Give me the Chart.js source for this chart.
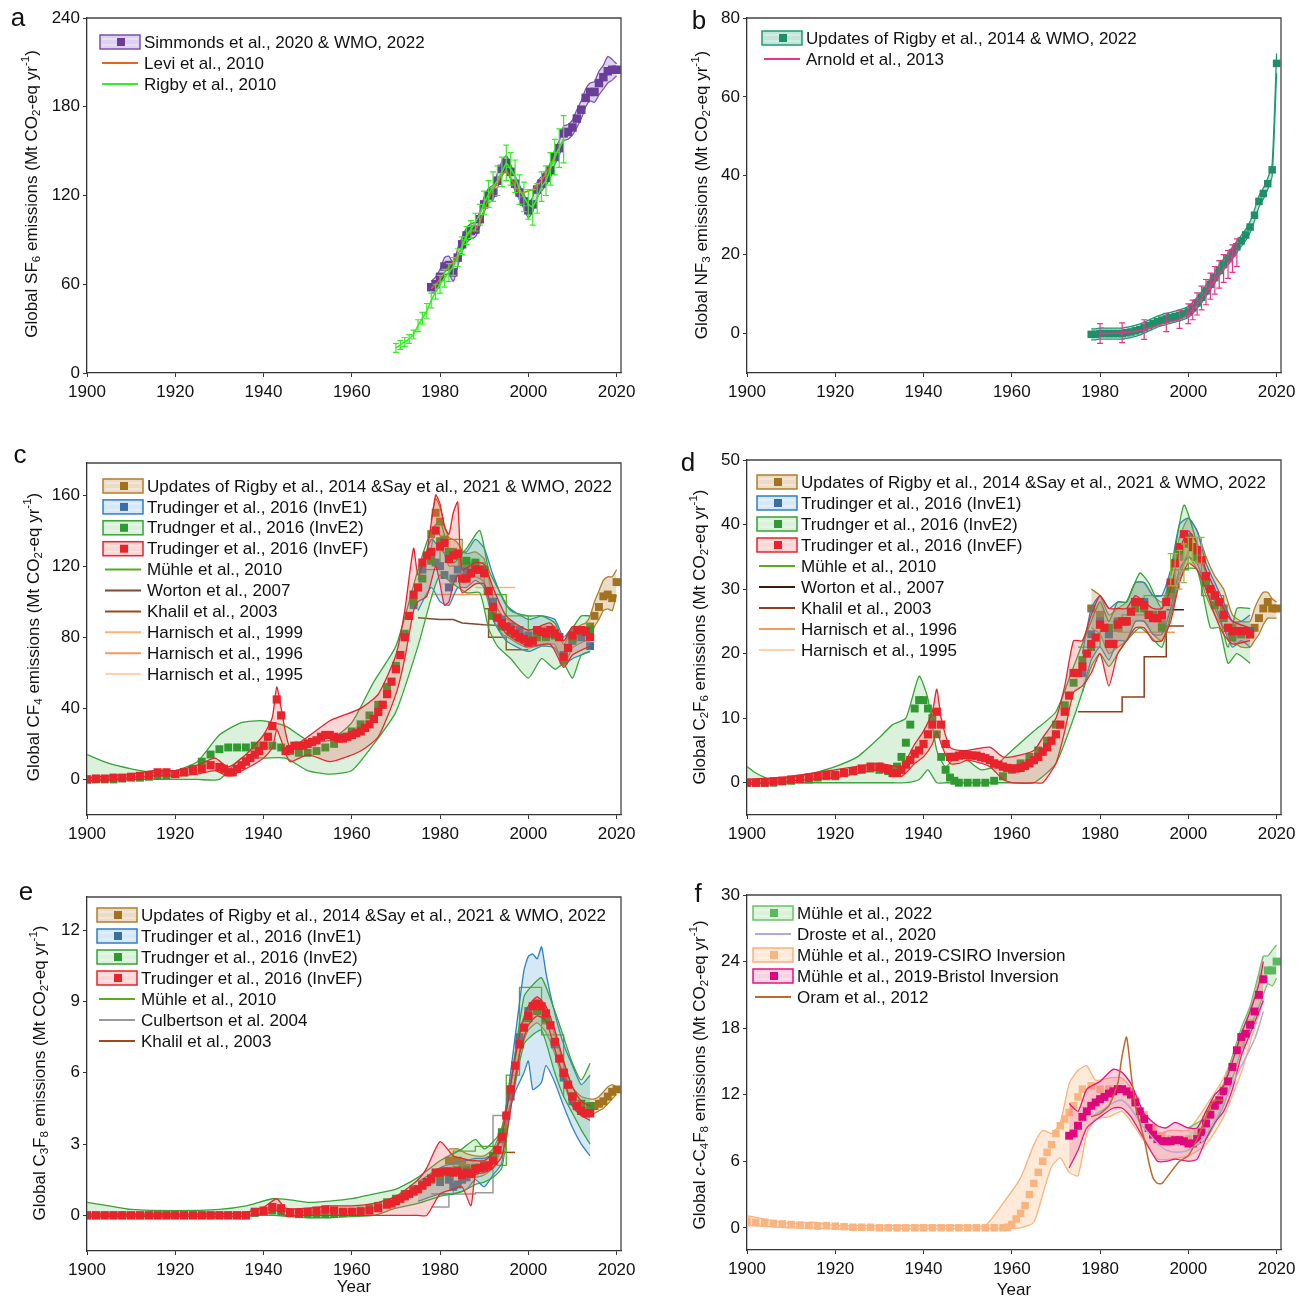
<!DOCTYPE html>
<html>
<head>
<meta charset="utf-8">
<script src="https://cdn.jsdelivr.net/npm/chart.js@4.4.0/dist/chart.umd.min.js"></script>
<style>
  body { margin: 0; background: #fff; }
  #wrap { position: relative; width: 1311px; height: 1297px; }
  #wrap canvas { position: absolute; left: 0; top: 0; }
</style>
</head>
<body>
<div id="wrap"></div>
<script>
const FONT = '"Liberation Sans", Arial, sans-serif';
const range = (a, b, s = 1) => { const r = []; for (let v = a; v <= b + 1e-9; v += s) r.push(v); return r; };

// ---- shared axis ticks ----
const xTicks = [1900, 1920, 1940, 1960, 1980, 2000, 2020];

// ---- panel a: SF6 ----
const aTicks = [0, 60, 120, 180, 240];
const aSimYears = range(1978, 2020);
const aSimMid = [58,60,65,72,73,68,78,87,93,96,97,104,114,120,122,130,138,142,136,128,122,116,110,114,124,128,132,137,146,152,162,163,166,172,178,186,190,190,196,200,204,205,205];
const aSimHi = [62,65,70,78,79,74,84,92,98,101,102,109,119,125,127,135,143,147,141,133,127,121,115,119,129,133,137,142,151,157,167,168,171,178,184,192,196,197,204,208,214,212,209];
const aSimLo = [54,55,60,66,67,62,72,82,88,91,92,99,109,115,117,125,133,137,131,123,117,111,105,109,119,123,127,132,141,147,157,158,161,166,172,180,184,183,188,192,196,198,201];
const aLeviYears = range(1978, 2008);
const aLevi = [57,60,63,68,72,75,80,85,92,96,97,102,110,118,124,128,134,137,132,126,122,122,123,124,127,130,135,140,147,152,158];
const aRigbyYears = range(1970, 2008);
const aRigby = [17,19,21,23,26,32,37,42,49,55,60,64,68,72,78,86,93,97,102,107,115,121,126,130,136,142,138,133,124,119,114,112,118,126,130,138,146,152,158];
const aRigbyErr = [3,3,3,3,3,4,4,5,5,5,6,6,6,6,6,6,6,6,6,7,8,9,10,10,10,12,11,11,10,10,10,12,10,10,10,11,12,13,16];

// ---- panel b: NF3 ----
const bTicks = [0, 20, 40, 60, 80];
const bUpdYears = range(1978, 2020);
const bUpdMid = [-0.2,-0.2,0,0,0,0,0,0,0.2,0.4,0.7,1.0,1.5,2.0,2.5,3.0,3.4,3.7,4.0,4.3,4.6,5.0,5.5,6.5,7.8,9.2,10.8,12.5,14.2,16.0,17.5,19.0,20.5,22.0,23.5,25.0,27.0,30.0,33.5,35.5,38.0,41.5,68.5];
const bUpdHi = [1.2,1.2,1.4,1.4,1.4,1.4,1.4,1.4,1.6,1.8,2.1,2.4,2.9,3.4,3.9,4.4,4.8,5.1,5.4,5.7,6.0,6.4,6.9,7.9,9.2,10.6,12.2,13.9,15.6,17.4,18.9,20.4,21.9,23.4,24.9,26.4,28.4,31.4,34.9,36.9,39.4,43,71];
const bUpdLo = [-1.6,-1.6,-1.4,-1.4,-1.4,-1.4,-1.4,-1.4,-1.2,-1.0,-0.7,-0.4,0.1,0.6,1.1,1.6,2.0,2.3,2.6,2.9,3.2,3.6,4.1,5.1,6.4,7.8,9.4,11.1,12.8,14.6,16.1,17.6,19.1,20.6,22.1,23.6,25.6,28.6,32.1,34.1,36.6,40,66];
const bArnYears = [1980,1985,1990,1995,1998,2000,2001,2002,2003,2004,2005,2006,2007,2008,2009,2010,2011];
const bArn = [0,0.2,1.0,2.8,3.6,5.0,6.0,7.5,9.0,10.5,12.0,13.5,15.0,16.5,17.5,19.0,20.5];
const bArnErr = [2.5,2.5,2.5,2.3,2.3,2.5,2.5,2.8,3.0,3.2,3.3,3.5,3.5,3.5,3.5,3.5,3.5];

// ---- panel c: CF4 ----
const cTicks = [0, 40, 80, 120, 160];
const cRedYears = [...range(1900, 1928, 2), ...range(1930, 2014)];
const cRedMid = [0,0.5,0.5,1,1,1.5,2,2.5,4,4,3,4,5,6,8,
  7,6,4,4,6,8,10,12,14,16, 19,24,30,45,36,16,17,19,19,19,
  20,21,22,24,25,25,24,23,23,24, 25,26,27,29,31,34,38,42,48,55,
  62,70,80,92,104,108,122,126,128,140, 131,133,124,126,127,113,113,116,118,118,
  116,106,97,91,88,86,84,82,80,79, 77,78,84,83,82,84,82,80,69,74, 81,84,84,83,80];
const cRedBandYears = [1900,1905,1910,1915,1920,1925,1929,1932,1936,1940,1942,1943,1944,1946,1950,1955,1958,1962,1966,1970,1972,1974,1975,1977,1979,1980,1981,1982,1983,1984,1985,1988,1990,1992,1995,2000,2005,2008,2010,2014];
const cRedHi = [1,2,3,5,5,8,12,7,14,25,35,52,40,18,24,33,36,40,48,70,95,130,115,128,160,155,142,138,150,156,118,122,121,108,92,84,88,78,86,85];
const cRedLo = [-1,0,1,2,2,3,5,2,6,12,18,28,22,10,14,10,12,16,24,48,68,95,100,103,120,110,98,100,110,115,105,110,110,94,82,75,76,63,70,75];
const cGreenYears = range(1900, 2014, 2);
const cGreenMid = [0,0,0,0,0.5,1,1,1.5,2,2.5, 3,4,6,10,14,17,18,18,18,19, 19,19,18,16,15,15,16,18,20,24,
  27,31,36,42,52,64,82,100,113,123, 134,128,127,123,122,118,92,86,83,80, 79,80,80,81,67,80,83,84];
const cGreenBandYears = [1900,1905,1910,1915,1920,1925,1930,1935,1940,1945,1950,1955,1960,1965,1970,1975,1978,1980,1983,1986,1989,1991,1993,1996,2000,2003,2006,2008,2010,2012,2014];
const cGreenHi = [14,9,6,4,5,10,25,32,33,30,22,22,32,55,75,118,140,145,122,130,140,118,108,95,92,92,88,78,85,92,92];
const cGreenLo = [-1,0,0,0,0,0,0,12,12,12,5,3,5,20,38,75,102,115,110,105,105,85,75,68,57,68,62,65,57,70,72];
const cBlueYears = [1974,1976,1978,1979,1980,1981,1982,1983,1984,1986,1988,1990,1992,1994,1996,1998,2000,2002,2004,2006,2008,2010,2012,2014];
const cBlueMid = [98,118,124,122,120,115,108,113,118,117,119,116,100,90,86,84,81,84,83,82,70,78,80,75];
const cBlueBandYears = [1975,1978,1980,1982,1984,1986,1988,1990,1992,1995,2000,2003,2006,2008,2010,2014];
const cBlueHi = [112,135,130,125,128,128,135,130,115,98,90,92,90,80,85,82];
const cBlueLo = [95,108,100,98,108,108,112,108,90,78,72,75,74,65,68,72];
const cUpdYears = [1978,1979,1980,1981,1982,1983,1984,1985,1986,1988,1990,1992,1994,1996,1998,2000,2002,2004,2006,2008,2010,2012,2013,2014,2015,2016,2017,2018,2019,2020];
const cUpdMid = [138,150,145,135,128,128,126,122,120,121,118,96,87,84,81,79,80,81,81,70,79,82,83,86,92,97,103,104,102,111];
const cUpdHi = [146,158,153,143,136,135,133,129,127,128,124,102,92,89,86,84,85,86,86,76,84,87,88,92,100,106,112,114,114,118];
const cUpdLo = [130,142,137,127,120,120,119,115,113,114,111,90,82,79,76,74,75,76,76,64,74,77,78,80,86,90,95,96,95,104];
const cMuhleX = [1975,1980,1985,1990,1995,2000,2005,2008];
const cMuhleY = [118,135,122,104,92,82,80,80];
const cWortonX = [1975,1980,1983,1985,1990,1998];
const cWortonY = [91,90,90,88,87,86];
const cKhalilX = [1990,1991,1995,2000];
const cKhalilY = [96,80,73,73];
const cHar99X = [1988,1997], cHar99Y = [108,108];
const cHar96X = [1978,1995], cHar96Y = [104,104];
const cHar95X = [1980,1990], cHar95Y = [110,110];

// ---- panel d: C2F6 ----
const dTicks = [0, 10, 20, 30, 40, 50];
const dRedYears = [...range(1900, 1928, 2), ...range(1930, 2014)];
const dRedMid = [0,0,0,0.2,0.3,0.5,0.6,0.8,1,1.2,1.2,1.5,1.8,2.2,2.5,
  2.5,2.2,2,1.5,1.5,2,2.8,3.5,4.5,5, 6,7.5,9,11,9,6,4,4,4.2,4.3,
  4.3,4.2,4.2,4,3.8,3.5,3,2.8,2.5,2.3, 2.2,2.2,2.3,2.6,3,3.5,4,4.8,5.5,6.5,
  7.5,9,11,13.5,17,17,18,20,21.5,22.5, 24.5,24,21.5,21.5,24.5,25,25,26.5,28,28,
  27.5,26,25.5,25.5,26,28,31,34,36.5,38.5, 37.5,36.5,36,34.5,32,30,29,28,26,24, 23.5,23.5,23.5,23.5,23];
const dRedBandYears = [1900,1910,1920,1930,1935,1938,1940,1942,1943,1944,1946,1948,1950,1955,1958,1960,1965,1967,1970,1972,1974,1976,1978,1980,1982,1984,1986,1988,1990,1992,1994,1996,1998,2000,2002,2004,2006,2008,2010,2014];
const dRedHi = [0.5,1,2,3,2.5,6,8,11,14.5,10,5.5,5,5,5.5,4,4,5,7,10,15,22,22,26,29,27,27,27,29,28,27,27,30,36,39,37,33,30,27,25,24];
const dRedLo = [-0.3,0.3,0.8,2,1,3,4,6,8,6,3,3,3.5,2.5,0.5,0,0,0,3,8,14,15,17,20,15,20,22,24,24,22,22,25,31,34,33,30,26,23,21.5,22];
const dGreenYears = [...range(1900, 1932, 2), ...range(1933, 1948), ...range(1950, 2014, 2)];
const dGreenMid = [0,0,0,0,0.2,0.3,0.5,0.5,0.8,1,1,1.5,1.8,2,2.2,2,1.8,
  2,2.5,4,6.2,9,11.5,12.8,12.8,11.5,10,7.5,4,2,0.8,0.3,0,
  0,0,0,0.3,1, 2,3,4,5,6.5, 9,12,15.5,19,21, 24.5,24,24.5,25,27, 27,26,24,30,36, 37,35,31,27.5,25.5, 22.5,23,23];
const dGreenBandYears = [1900,1902,1905,1910,1915,1920,1925,1930,1933,1936,1939,1941,1943,1945,1948,1950,1953,1956,1960,1965,1970,1974,1978,1980,1982,1984,1986,1989,1991,1994,1996,1999,2002,2005,2007,2009,2011,2014];
const dGreenHi = [2.5,1.5,0.6,0.8,1.5,2.5,4,7,9,10,16.5,13,5,2.5,4.5,3.5,2,2.5,5,8,11,18,25,28,25,28,28,32.5,31,27,32,43,37,30,26,21,27,27];
const dGreenLo = [0,0,0,0,0,0,0,0,0,0,0.5,2,0,0,0,0,0,0,0,0,3,10,18,20,18,20,22,24,23,21,26,33,33,24,24,18.5,20,18.5];
const dBlueYears = [1976,1978,1980,1982,1984,1986,1988,1990,1992,1994,1996,1998,2000,2002,2004,2006,2008,2010,2012,2014];
const dBlueMid = [17,23,25,23,25,25,28,28,26,26,30,36,38,36,32,29,26,23,23.5,23.5];
const dBlueHi = [20,27,29,27,28,28,31,31,29,29,33,40,41,39,34,31,28,25,25,26];
const dBlueLo = [14,19,21,19,22,22,25,25,23,23,27,33,35,34,30,27,24,21,22,21];
const dUpdYears = [1978,1980,1982,1984,1986,1988,1990,1992,1994,1996,1998,2000,2002,2004,2006,2008,2010,2012,2014,2015,2016,2017,2018,2019,2020];
const dUpdMid = [27,26,23,24,25,28,28,26,25,29,35,38,36,32,29,27,24,23,23,24,25.5,27,28,27,27];
const dUpdHi = [30,29,26,27,28,31,31,29,28,32,38,41,39,35,32,30,26,25,25,27,28.5,29.5,29.5,28.5,28];
const dUpdLo = [24,23,20,21,22,25,25,23,22,26,32,35,33,29,26,24,22,21,21,22,23,24.5,25.5,25.5,25.5];
const dMuhleX = [1975,1980,1985,1990,1995,1997,2000,2003,2008];
const dMuhleY = [21,23.5,26,29,29,33,36,29,28];
const dMuhleErrX = [1996,1997,1998,1999,2000,2001,2002,2003];
const dMuhleErrY = [33,33,33,34,36,36,36,36];
const dMuhleErr = [2.5,2.5,3,3,2,2,2,2];
const dWortonX = [1995,1999], dWortonY = [26.8,26.8];
const dKhalilX = [1975,1985,1990,1995,1999];
const dKhalilY = [11,13.3,19.5,24.3,24.3];
const dHar96X = [1984,1997], dHar96Y = [23.3,23.3];
const dHar95X = [1979,1991], dHar95Y = [25,25];

// ---- panel e: C3F8 ----
const eTicks = [0, 3, 6, 9, 12];
const eRedYears = [...range(1900, 1968, 2), ...range(1969, 2014)];
const eRedMid = [0,0,0,0,0,0,0,0,0,0,0,0,0,0,0,0,0,0,0,
  0.15,0.2,0.35,0.3,0.1,0.1,0.15,0.2,0.25,0.2,0.15,0.15,0.15,0.2,0.3,0.45,
  0.5,0.6,0.7,0.8,0.9,1.0,1.1,1.25,1.4,1.55, 1.8,1.8,1.85,1.85,1.8,1.85,1.7,1.8,1.75,1.95,
  2.0,2.05,2.1,2.3,2.75,3.3,4.2,5.3,6.3,7.2, 7.9,8.4,8.8,8.9,8.8,8.5,8.0,7.3,6.6,6.0, 5.5,5.0,4.6,4.4,4.3,4.3];
const eRedBandYears = [1900,1920,1935,1940,1943,1945,1950,1955,1960,1965,1970,1975,1977,1980,1983,1985,1987,1988,1990,1992,1994,1996,1998,2000,2002,2004,2006,2008,2010,2012,2014];
const eRedHi = [0.05,0.05,0.1,0.35,0.7,0.3,0.3,0.4,0.4,0.5,0.8,1.5,2.0,3.1,2.5,2.4,2.3,2.3,2.3,2.6,3.3,5.5,7.6,8.8,9.2,8.8,7.8,6.5,5.4,4.8,4.6];
const eRedLo = [-0.05,-0.05,-0.05,0.05,0.2,0,0,0,0,0,0,0,0,0.9,1.1,1.2,0.4,1.7,1.8,2.0,2.5,4.5,6.8,8.0,8.4,8.2,7.0,5.8,4.6,4.2,4.0];
const eGreenYears = range(1900, 2014, 2);
const eGreenMid = [0,0,0,0,0,0,0,0,0,0,0,0,0,0,0,0,0,0,0,
  0.1,0.15,0.2,0.15,0.1,0.05,0.05,0.05,0.05,0.05, 0.1,0.15,0.2,0.3,0.4,0.55,0.7,0.9,1.1,1.3,
  1.5,1.7,1.8,1.9,1.9,2.0,2.1,2.5,3.5,5.3, 7.2,8.3,8.6,8.3,7.3,6.0,5.0,4.7,4.6];
const eGreenBandYears = [1900,1905,1910,1920,1930,1936,1942,1946,1950,1955,1960,1965,1970,1975,1980,1985,1988,1990,1992,1994,1996,1999,2001,2003,2006,2008,2010,2012,2014];
const eGreenHi = [0.55,0.4,0.25,0.2,0.25,0.4,0.7,0.65,0.55,0.6,0.7,0.9,1.1,1.6,2.3,2.8,3.2,2.8,3.1,3.6,5.5,9.2,9.7,10.0,8.6,7.5,6.4,5.7,6.4];
const eGreenLo = [0,0,0,0,-0.05,0,0,-0.05,-0.1,-0.1,-0.05,0,0.3,0.5,0.8,1.0,1.3,1.4,1.6,2.0,4.5,7.2,7.6,7.8,6.0,5.0,4.3,3.6,3.0];
const eBlueYears = [1980,1982,1983,1984,1985,1986,1988,1990,1992,1994,1996,1998,2000,2002,2004,2006,2008,2010,2012,2014];
const eBlueMid = [1.4,1.5,1.2,1.3,1.5,1.6,1.9,2.0,2.3,3.2,5.0,7.5,8.6,8.8,8.4,7.2,5.8,4.8,4.4,4.3];
const eBlueBandYears = [1975,1980,1983,1986,1988,1990,1992,1994,1995,1997,1999,2000,2001,2002,2003,2004,2006,2008,2010,2012,2014];
const eBlueHi = [1.4,2.0,2.2,2.3,2.4,2.4,2.6,3.5,4.6,7.5,10.3,10.9,11.0,10.8,11.3,10.2,8.5,7.2,6.3,5.5,5.9];
const eBlueLo = [0.6,0.9,0.9,1.1,1.5,1.2,1.7,2.2,4.0,5.2,6.0,6.5,5.3,5.4,5.6,6.3,5.6,4.6,3.7,3.0,2.5];
const eUpdYears = [1982,1983,1984,1985,1986,1988,1990,1992,1994,1996,1998,2000,2002,2004,2006,2008,2010,2012,2014,2015,2016,2017,2018,2019,2020];
const eUpdMid = [2.3,2.3,2.3,2.2,2.0,2.0,2.1,2.4,3.3,5.2,7.3,8.3,8.6,8.2,7.2,6.0,5.0,4.6,4.5,4.6,4.7,4.8,5.0,5.2,5.3];
const eUpdHi = [2.8,2.8,2.8,2.7,2.6,2.5,2.5,2.8,3.7,5.7,7.8,8.8,9.1,8.7,7.6,6.4,5.4,5.0,4.9,4.9,5.0,5.2,5.4,5.5,5.4];
const eUpdLo = [1.8,1.8,1.8,1.7,1.6,1.6,1.7,2.0,2.9,4.7,6.8,7.8,8.1,7.7,6.8,5.6,4.6,4.2,4.2,4.3,4.4,4.5,4.7,4.9,5.1];
const eMuhleX = [1978,1983,1988,1993,1995,1998,2003,2008];
const eMuhleY = [0.9,2.7,2.9,2.1,5.9,9.6,7.6,5.0];
const eCulbX = [1978,1982,1988,1992,1995];
const eCulbY = [0.35,0.9,0.95,4.2,4.2];
const eKhalilX = [1992,1997], eKhalilY = [2.65,2.65];

// ---- panel f: c-C4F8 ----
const fTicks = [0, 6, 12, 18, 24, 30];
const fMu22Years = [2000,2004,2008,2010,2012,2014,2016,2017,2018,2019,2020];
const fMu22Hi = [9,10,13,15.5,18,20,23,24.5,24.5,25,25.5];
const fMu22Lo = [7,8,11,13.5,16,18,20,21,22,21.8,22.5];
const fMu22MarkYears = [2018,2019,2020];
const fMu22Mark = [23.2,23.2,24];
const fDrosteYears = [1978,1980,1985,1990,1995,2000,2005,2010,2015,2017];
const fDroste = [10,10.5,11.5,9,7,7,9,13,17,19.5];
const fCsiroYears = [...range(1900, 1958, 2), ...range(1959, 1976), ...range(1978, 2016, 2), 2017];
const fCsiroMid = [0.6,0.5,0.5,0.4,0.35,0.3,0.25,0.2,0.15,0.2, 0.15,0.1,0.05,0.05,0.05,0,0,0,0,0, 0,0,0,0,0,0,0,0,0,0,
  0.05,0.3,0.8,1.3,2,3,4,5,6,6.8,7.5,8.5,9.2,9.8,10.4,11.0,11.8,12.5,
  12.8,12.5,12.5,12.5,12.2,11.5,10.2,9.0,8.3,8.0, 8.0,8.0,8.5,9.8,11.2,12.5,14.5,16.5,18.5,21.0, 22.5];
const fCsiroBandYears = [1900,1905,1910,1915,1920,1930,1940,1950,1954,1958,1962,1965,1967,1969,1971,1973,1975,1977,1979,1982,1985,1988,1990,1993,1996,2000,2004,2008,2012,2015,2017];
const fCsiroHi = [1.1,0.7,0.4,0.5,0.2,0.2,0.2,0.2,0.2,2.2,4.5,7.5,8.8,8.5,9.5,13,14.2,14.6,13.3,13.5,13.5,12,10,8.5,8.8,8.8,11,13.5,17.5,21,24.5];
const fCsiroLo = [0.2,0.1,0,0,-0.1,-0.1,-0.1,-0.1,-0.1,-0.1,0,0.5,3,5.5,6.3,5,4.7,8.5,9.8,10,10.5,9,7.8,6.2,6.2,6.5,7.5,10,14,18,20.5];
const fBriYears = range(1973, 2017);
const fBriMid = [8.3,8.5,9.2,10,10.5,11,11.3,11.6,11.8,12.1, 12.3,12.5,12.5,12.3,12.0,11.3,10.5,9.8,9.0,8.4,
  8.0,7.8,7.8,7.8,7.9,7.9,7.8,7.6,7.6,8.0, 8.6,9.4,10.2,11.0,11.5,12.3,13.2,14.5,16.0,17.2, 17.5,18.3,19.5,21.0,22.4];
const fBriBandYears = [1973,1975,1977,1980,1983,1985,1987,1990,1993,1995,1997,2000,2002,2004,2006,2008,2010,2012,2014,2016,2017];
const fBriHi = [11.2,10.5,12.5,13.2,14.3,14,13,10.3,9.2,9,9.5,9.0,9.0,10.5,12,12.8,15,17.5,19.5,22,24];
const fBriLo = [5.4,7,9,10,10.8,10.8,10,8,6,6,6.2,6,6.2,8,9.5,10.5,12.5,15.5,17.5,19.5,20.5];
const fOramYears = [1978,1980,1982,1984,1985,1986,1987,1988,1990,1991,1992,1993,1994,1996,1998,2000,2002,2004,2005,2006,2008];
const fOram = [10,10.3,11,13,15.5,17.2,14,11,8,6,4.5,4,4,5,6,6.5,8,10,11,11.5,11.5];

// ---- colours ----
const C = {
  updS: '#b07f2c', updF: 'rgba(190,140,70,0.30)', updM: '#a3721f',
  blueS: '#2f7fc1', blueF: 'rgba(90,160,215,0.25)', blueM: '#3a6f9f',
  greenS: '#37a336', greenF: 'rgba(90,190,90,0.22)', greenM: '#2f9a2f',
  redS: '#e8232b', redF: 'rgba(240,90,90,0.25)', redM: '#e8232b',
  muhle: '#5aaa1e', worton: '#7a4a33', khalil: '#9a4a18',
  h99: '#f9b27a', h96: '#f59b5a', h95: '#fcd3ae'
};

const pts = (xs, ys) => xs.map((x, i) => ({ x, y: ys[i] }));
function band(xs, lo, hi, stroke, fill, w = 1.3) {
  return [
    { data: pts(xs, lo), borderColor: stroke, borderWidth: w, pointRadius: 0, fill: false, tension: 0.2 },
    { data: pts(xs, hi), borderColor: stroke, borderWidth: w, pointRadius: 0, fill: '-1', backgroundColor: fill, tension: 0.2 }
  ];
}
function marks(xs, ys, color, r = 5.6) {
  return { data: pts(xs, ys), showLine: false, pointStyle: 'rect', pointRadius: r,
    pointBackgroundColor: color, pointBorderWidth: 0, borderColor: color, backgroundColor: color };
}
function line(xs, ys, color, w = 1.5, stepped = false, extra = {}) {
  return Object.assign({ data: pts(xs, ys), borderColor: color, borderWidth: w, pointRadius: 0,
    fill: false, stepped, tension: 0 }, extra);
}

// rich text with sub/superscripts
function richRun(ctx, parts, size, draw) {
  let x = 0;
  for (const p of parts) {
    let txt = p, fs = size, dy = 0, st = '';
    if (typeof p === 'object') {
      txt = p.t;
      if (p.k === 'sub') { fs = size * 0.68; dy = size * 0.28; }
      if (p.k === 'sup') { fs = size * 0.68; dy = -size * 0.38; }
      if (p.k === 'it') st = 'italic ';
    }
    ctx.font = st + fs + 'px ' + FONT;
    if (draw) ctx.fillText(txt, x, dy);
    x += ctx.measureText(txt).width;
  }
  return x;
}
const tail = [' emissions (Mt CO', { k: 'sub', t: '2' }, '-eq yr', { k: 'sup', t: '-1' }, ')'];

const decor = {
  id: 'decor',
  afterDatasetsDraw(chart) {
    const { ctx, chartArea: a, scales: { x, y } } = chart;
    ctx.save();
    ctx.beginPath(); ctx.rect(a.left, a.top, a.right - a.left, a.bottom - a.top); ctx.clip();
    chart.data.datasets.forEach(ds => {
      if (!ds.err) return;
      ctx.strokeStyle = ds.borderColor; ctx.lineWidth = 1.2;
      ds.data.forEach((p, i) => {
        const px = x.getPixelForValue(p.x);
        const y1 = y.getPixelForValue(p.y - ds.err[i]), y2 = y.getPixelForValue(p.y + ds.err[i]);
        ctx.beginPath();
        ctx.moveTo(px, y1); ctx.lineTo(px, y2);
        ctx.moveTo(px - 3, y1); ctx.lineTo(px + 3, y1);
        ctx.moveTo(px - 3, y2); ctx.lineTo(px + 3, y2);
        ctx.stroke();
      });
    });
    ctx.restore();
  },
  afterDraw(chart) {
    const p = chart.options.plugins.decor;
    const { ctx, chartArea: a } = chart;
    ctx.save();
    // frame
    ctx.strokeStyle = '#444'; ctx.lineWidth = 1.3;
    ctx.beginPath();
    ctx.moveTo(a.left, a.top); ctx.lineTo(a.right, a.top); ctx.lineTo(a.right, a.bottom);
    ctx.stroke();
    // legend
    ctx.textBaseline = 'middle';
    p.legend.forEach((it, i) => {
      const yy = p.lx[1] + i * p.lx[2], x0 = p.lx[0];
      if (it.band) {
        ctx.fillStyle = it.band[1]; ctx.fillRect(x0, yy - 7, 40, 14);
        ctx.strokeStyle = 'rgba(255,255,255,0.55)'; ctx.lineWidth = 1;
        ctx.beginPath(); ctx.moveTo(x0 + 2, yy - 3); ctx.lineTo(x0 + 38, yy - 3);
        ctx.moveTo(x0 + 2, yy + 3); ctx.lineTo(x0 + 38, yy + 3); ctx.stroke();
        ctx.strokeStyle = it.band[0]; ctx.lineWidth = 1.5; ctx.strokeRect(x0, yy - 7, 40, 14);
        ctx.fillStyle = it.band[2]; ctx.fillRect(x0 + 17, yy - 4, 8, 8);
      } else {
        ctx.strokeStyle = it.line; ctx.lineWidth = 2;
        ctx.beginPath(); ctx.moveTo(x0 + 2, yy); ctx.lineTo(x0 + 38, yy); ctx.stroke();
      }
      ctx.fillStyle = '#111'; ctx.font = '17px ' + FONT;
      ctx.fillText(it.label, x0 + 44, yy + 1);
    });
    // y title
    ctx.save();
    ctx.translate(p.title[0], p.title[1]); ctx.rotate(-Math.PI / 2);
    const w = richRun(ctx, p.titleParts, 17, false);
    ctx.translate(-w / 2, 0); ctx.fillStyle = '#111';
    richRun(ctx, p.titleParts, 17, true);
    ctx.restore();
    // panel letter
    ctx.textBaseline = 'alphabetic'; ctx.fillStyle = '#111'; ctx.font = '26px ' + FONT;
    ctx.textAlign = 'center';
    ctx.fillText(p.letter[0], p.letter[1], p.letter[2]);
    if (p.year) { ctx.font = '17px ' + FONT; ctx.textBaseline = 'middle'; ctx.fillText('Year', p.year[0], p.year[1]); }
    ctx.restore();
  }
};

const wrap = document.getElementById('wrap');
function panel(cfg) {
  const cv = document.createElement('canvas');
  cv.width = 1311; cv.height = 1297;
  wrap.appendChild(cv);
  const sets = cfg.sets;
  sets.forEach((d, i) => { d.order = sets.length - i; });
  const YW = 50, XH = 40, A = cfg.area;
  const tickFont = { size: 17, family: FONT };
  new Chart(cv, {
    type: 'line',
    data: { datasets: sets },
    options: {
      responsive: false, animation: false, events: [],
      layout: { padding: { left: A[0] - YW, top: A[1], right: 1311 - A[2], bottom: 1297 - A[3] - XH } },
      plugins: { legend: { display: false }, tooltip: { enabled: false }, decor: cfg.decor },
      scales: {
        x: {
          type: 'linear', min: 1900, max: 2021,
          afterFit: s => { s.height = XH; },
          afterBuildTicks: s => { s.ticks = xTicks.map(v => ({ value: v })); },
          ticks: { font: tickFont, color: '#111', padding: 5, maxRotation: 0, callback: v => String(v) },
          grid: { drawOnChartArea: false, tickLength: 4, color: '#333' },
          border: { color: '#333', width: 1.3 }
        },
        y: {
          type: 'linear', min: cfg.y[0], max: cfg.y[1],
          afterFit: s => { s.width = YW; },
          afterBuildTicks: s => { s.ticks = cfg.yTicks.map(v => ({ value: v })); },
          ticks: { font: tickFont, color: '#111', padding: 3, callback: v => String(v) },
          grid: { drawOnChartArea: false, tickLength: 4, color: '#333' },
          border: { color: '#333', width: 1.3 }
        }
      }
    },
    plugins: [decor]
  });
}

// a
panel({
  area: [87, 18, 621, 373], y: [0, 240], yTicks: aTicks,
  sets: [
    ...band(aSimYears, aSimLo, aSimHi, '#7b52ab', 'rgba(160,130,205,0.35)'),
    marks(aSimYears, aSimMid, '#6a3d9a', 6),
    line(aLeviYears, aLevi, '#e8631d', 1.5),
    line(aRigbyYears, aRigby, '#33ee22', 1.6, false, { err: aRigbyErr })
  ],
  decor: {
    legend: [
      { band: ['#7b52ab', 'rgba(160,130,205,0.35)', '#6a3d9a'], label: 'Simmonds et al., 2020 & WMO, 2022' },
      { line: '#e8631d', label: 'Levi et al., 2010' },
      { line: '#33ee22', label: 'Rigby et al., 2010' }
    ],
    lx: [100, 42, 21], title: [32, 194],
    titleParts: ['Global SF', { k: 'sub', t: '6' }, ...tail], letter: ['a', 18, 26]
  }
});

// b
panel({
  area: [747, 18, 1281, 373], y: [-10, 80], yTicks: bTicks,
  sets: [
    ...band(bUpdYears, bUpdLo, bUpdHi, '#1e9b74', 'rgba(50,170,130,0.30)'),
    marks(bUpdYears, bUpdMid, '#1f8f6a', 5.3),
    line(bArnYears, bArn, '#e6358c', 1.6, false, { err: bArnErr, tension: 0.3 })
  ],
  decor: {
    legend: [
      { band: ['#1e9b74', 'rgba(50,170,130,0.30)', '#1f8f6a'], label: 'Updates of Rigby et al., 2014 & WMO, 2022' },
      { line: '#e6358c', label: 'Arnold et al., 2013' }
    ],
    lx: [762, 38, 21], title: [702, 195],
    titleParts: ['Global NF', { k: 'sub', t: '3' }, ...tail], letter: ['b', 699, 29]
  }
});

// c
panel({
  area: [87, 463, 621, 815], y: [-20, 178], yTicks: cTicks,
  sets: [
    line(cHar95X, cHar95Y, C.h95, 1.5),
    line(cHar96X, cHar96Y, C.h96, 1.5),
    line(cHar99X, cHar99Y, C.h99, 1.5),
    line(cKhalilX, cKhalilY, C.khalil, 1.5, true),
    line(cWortonX, cWortonY, C.worton, 1.5),
    line(cMuhleX, cMuhleY, C.muhle, 1.3, true),
    ...band(cUpdYears, cUpdLo, cUpdHi, C.updS, C.updF),
    marks(cUpdYears, cUpdMid, C.updM),
    ...band(cBlueBandYears, cBlueLo, cBlueHi, C.blueS, C.blueF),
    marks(cBlueYears, cBlueMid, C.blueM),
    ...band(cGreenBandYears, cGreenLo, cGreenHi, C.greenS, C.greenF),
    marks(cGreenYears, cGreenMid, C.greenM),
    ...band(cRedBandYears, cRedLo, cRedHi, C.redS, C.redF),
    marks(cRedYears, cRedMid, C.redM, 5.8)
  ],
  decor: {
    legend: [
      { band: [C.updS, C.updF, C.updM], label: 'Updates of Rigby et al., 2014 &Say et al., 2021 & WMO, 2022' },
      { band: [C.blueS, C.blueF, C.blueM], label: 'Trudinger et al., 2016 (InvE1)' },
      { band: [C.greenS, C.greenF, C.greenM], label: 'Trudnger et al., 2016 (InvE2)' },
      { band: [C.redS, C.redF, C.redM], label: 'Trudinger et al., 2016 (InvEF)' },
      { line: C.muhle, label: 'Mühle et al., 2010' },
      { line: C.worton, label: 'Worton et al., 2007' },
      { line: C.khalil, label: 'Khalil et al., 2003' },
      { line: C.h99, label: 'Harnisch et al., 1999' },
      { line: C.h96, label: 'Harnisch et al., 1996' },
      { line: C.h95, label: 'Harnisch et al., 1995' }
    ],
    lx: [103, 486, 20.9], title: [34, 637],
    titleParts: ['Global CF', { k: 'sub', t: '4' }, ...tail], letter: ['c', 20, 463]
  }
});

// d
panel({
  area: [747, 460, 1281, 815], y: [-5, 50], yTicks: dTicks,
  sets: [
    line(dHar95X, dHar95Y, C.h95, 1.5),
    line(dHar96X, dHar96Y, C.h96, 1.5),
    line(dKhalilX, dKhalilY, '#8e3f1a', 1.5, true),
    line(dWortonX, dWortonY, '#3d1a0c', 1.5),
    line(dMuhleX, dMuhleY, C.muhle, 1.3, true),
    line(dMuhleErrX, dMuhleErrY, '#8dbb3a', 1.2, false, { err: dMuhleErr }),
    ...band(dUpdYears, dUpdLo, dUpdHi, C.updS, C.updF),
    marks(dUpdYears, dUpdMid, C.updM),
    ...band(dBlueYears, dBlueLo, dBlueHi, C.blueS, C.blueF),
    marks(dBlueYears, dBlueMid, C.blueM),
    ...band(dGreenBandYears, dGreenLo, dGreenHi, C.greenS, C.greenF),
    marks(dGreenYears, dGreenMid, C.greenM),
    ...band(dRedBandYears, dRedLo, dRedHi, C.redS, C.redF),
    marks(dRedYears, dRedMid, C.redM, 5.8)
  ],
  decor: {
    legend: [
      { band: [C.updS, C.updF, C.updM], label: 'Updates of Rigby et al., 2014 &Say et al., 2021 & WMO, 2022' },
      { band: [C.blueS, C.blueF, C.blueM], label: 'Trudinger et al., 2016 (InvE1)' },
      { band: [C.greenS, C.greenF, C.greenM], label: 'Trudnger et al., 2016 (InvE2)' },
      { band: [C.redS, C.redF, C.redM], label: 'Trudinger et al., 2016 (InvEF)' },
      { line: C.muhle, label: 'Mühle et al., 2010' },
      { line: '#3d1a0c', label: 'Worton et al., 2007' },
      { line: '#8e3f1a', label: 'Khalil et al., 2003' },
      { line: C.h96, label: 'Harnisch et al., 1996' },
      { line: C.h95, label: 'Harnisch et al., 1995' }
    ],
    lx: [757, 482, 21], title: [700, 637],
    titleParts: ['Global C', { k: 'sub', t: '2' }, 'F', { k: 'sub', t: '6' }, ...tail], letter: ['d', 688, 471]
  }
});

// e
panel({
  area: [87, 897, 621, 1251], y: [-1.5, 13.4], yTicks: eTicks,
  sets: [
    line(eKhalilX, eKhalilY, '#a4461a', 1.5),
    line(eCulbX, eCulbY, '#999999', 1.5, true),
    line(eMuhleX, eMuhleY, C.muhle, 1.3, true),
    ...band(eUpdYears, eUpdLo, eUpdHi, C.updS, C.updF),
    marks(eUpdYears, eUpdMid, C.updM),
    ...band(eBlueBandYears, eBlueLo, eBlueHi, C.blueS, C.blueF),
    marks(eBlueYears, eBlueMid, C.blueM),
    ...band(eGreenBandYears, eGreenLo, eGreenHi, C.greenS, C.greenF),
    marks(eGreenYears, eGreenMid, C.greenM),
    ...band(eRedBandYears, eRedLo, eRedHi, C.redS, C.redF),
    marks(eRedYears, eRedMid, C.redM, 5.8)
  ],
  decor: {
    legend: [
      { band: [C.updS, C.updF, C.updM], label: 'Updates of Rigby et al., 2014 &Say et al., 2021 & WMO, 2022' },
      { band: [C.blueS, C.blueF, C.blueM], label: 'Trudinger et al., 2016 (InvE1)' },
      { band: [C.greenS, C.greenF, C.greenM], label: 'Trudnger et al., 2016 (InvE2)' },
      { band: [C.redS, C.redF, C.redM], label: 'Trudinger et al., 2016 (InvEF)' },
      { line: C.muhle, label: 'Mühle et al., 2010' },
      { line: '#999999', label: 'Culbertson et al. 2004' },
      { line: '#a4461a', label: 'Khalil et al., 2003' }
    ],
    lx: [97, 915, 21], title: [40, 1073],
    titleParts: ['Global C', { k: 'sub', t: '3' }, 'F', { k: 'sub', t: '8' }, ...tail],
    letter: ['e', 26, 900], year: [354, 1287]
  }
});

// f
panel({
  area: [747, 895, 1281, 1250], y: [-2, 30], yTicks: fTicks,
  sets: [
    ...band(fCsiroBandYears, fCsiroLo, fCsiroHi, '#f9b27c', 'rgba(253,195,145,0.35)'),
    marks(fCsiroYears, fCsiroMid, '#f9b47f', 5.3),
    ...band(fMu22Years, fMu22Lo, fMu22Hi, '#6cc06c', 'rgba(150,215,150,0.35)'),
    ...band(fBriBandYears, fBriLo, fBriHi, '#e5127f', 'rgba(236,90,155,0.28)'),
    marks(fBriYears, fBriMid, '#e0067c', 5.6),
    line(fDrosteYears, fDroste, '#b7a6da', 1.5, false, { tension: 0.3 }),
    line(fOramYears, fOram, '#c0672a', 1.5, false, { tension: 0.2 }),
    marks(fMu22MarkYears, fMu22Mark, '#5cb85c', 5.6)
  ],
  decor: {
    legend: [
      { band: ['#6cc06c', 'rgba(150,215,150,0.35)', '#5cb85c'], label: 'Mühle et al., 2022' },
      { line: '#b7a6da', label: 'Droste et al., 2020' },
      { band: ['#f9b27c', 'rgba(253,195,145,0.35)', '#f9b47f'], label: 'Mühle et al., 2019-CSIRO Inversion' },
      { band: ['#e5127f', 'rgba(236,90,155,0.28)', '#e0067c'], label: 'Mühle et al., 2019-Bristol Inversion' },
      { line: '#c0672a', label: 'Oram et al., 2012' }
    ],
    lx: [753, 913, 21], title: [700, 1075],
    titleParts: ['Global ', { k: 'it', t: 'c' }, '-C', { k: 'sub', t: '4' }, 'F', { k: 'sub', t: '8' }, ...tail],
    letter: ['f', 698, 902], year: [1014, 1290]
  }
});
</script>
</body>
</html>
